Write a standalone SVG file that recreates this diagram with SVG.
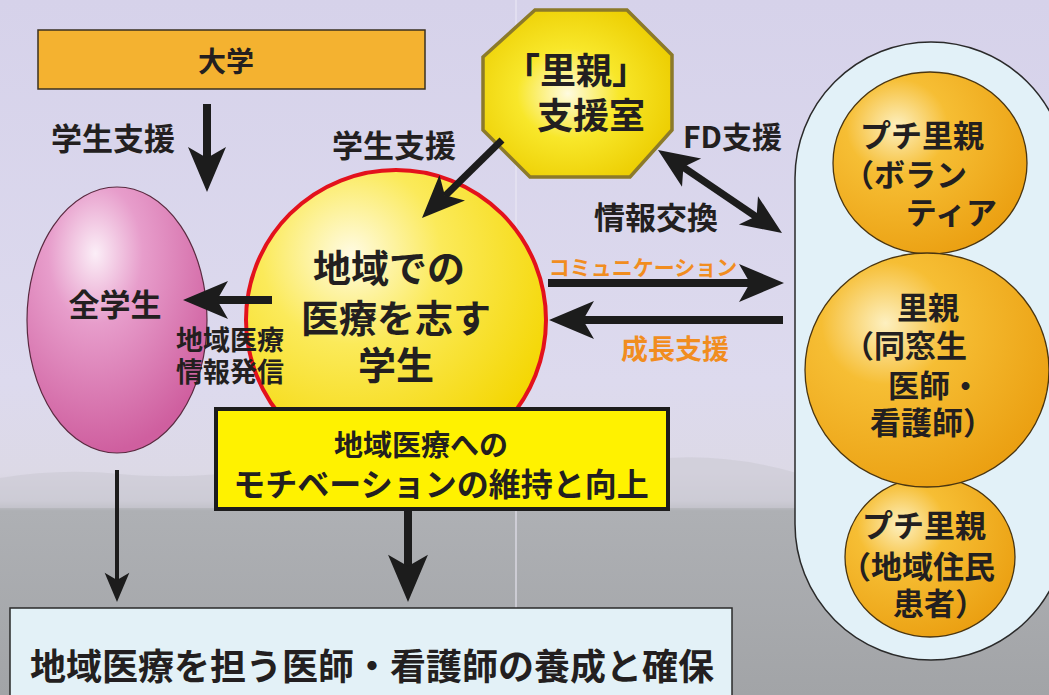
<svg xmlns="http://www.w3.org/2000/svg" xmlns:xlink="http://www.w3.org/1999/xlink" width="1049" height="695" viewBox="0 0 1049 695">
<defs>
<style>
text{font-family:"Noto Sans CJK JP","Noto Sans",sans-serif;font-weight:700;fill:#231f20;dominant-baseline:central}
.c{text-anchor:middle}
.e{text-anchor:end}
.or{fill:#f18d1f}
.arr{fill:#1c1c1c}
.shaft{stroke:#1c1c1c;fill:none}
</style>
<linearGradient id="bg" x1="0" y1="0" x2="0" y2="1">
<stop offset="0" stop-color="#d6d2ea"/>
<stop offset="0.55" stop-color="#dddaee"/>
<stop offset="0.68" stop-color="#dcd9e6"/>
<stop offset="0.72" stop-color="#cfced8"/>
<stop offset="0.735" stop-color="#aeb0b4"/>
<stop offset="1" stop-color="#a2a4a7"/>
</linearGradient>
<radialGradient id="pink" cx="0.38" cy="0.25" r="0.75">
<stop offset="0" stop-color="#fbeef7"/>
<stop offset="0.35" stop-color="#e79dcb"/>
<stop offset="1" stop-color="#cf5f9f"/>
</radialGradient>
<radialGradient id="yel" cx="0.35" cy="0.28" r="0.75">
<stop offset="0" stop-color="#fffbe2"/>
<stop offset="0.4" stop-color="#fbea5a"/>
<stop offset="1" stop-color="#f4d600"/>
</radialGradient>
<radialGradient id="oct" cx="0.45" cy="0.5" r="0.6">
<stop offset="0" stop-color="#fffbe0"/>
<stop offset="0.45" stop-color="#f8e72a"/>
<stop offset="1" stop-color="#eccd00"/>
</radialGradient>
<radialGradient id="org" cx="0.33" cy="0.3" r="0.75">
<stop offset="0" stop-color="#fdf0c0"/>
<stop offset="0.35" stop-color="#f6be34"/>
<stop offset="1" stop-color="#eba012"/>
</radialGradient>
<path id="head" d="M0,0 L-45,-19 L-34,0 L-45,19 Z"/>
</defs>

<rect x="0" y="0" width="1049" height="695" fill="url(#bg)"/>
<path d="M0,478 Q60,468 120,474 T260,470 T420,476 T600,468 T800,474 T1049,470 L1049,508 L0,508 Z" fill="#cbc9d4" opacity="0.6"/>
<line x1="516" y1="0" x2="516" y2="695" stroke="#eceaf6" stroke-width="1.5" opacity="0.7"/>

<g id="daigaku">
<rect x="38" y="30" width="387" height="59" fill="#f4b230" stroke="#3a3020" stroke-width="1.5"/>
<text class="c" x="226" y="60" font-size="28">大学</text>
</g>

<g id="zengakusei">
<ellipse cx="117" cy="320" rx="90" ry="133" fill="url(#pink)" stroke="#5a2a40" stroke-width="1.2"/>
<text class="c" x="115" y="302" font-size="31">全学生</text>
</g>

<g id="capsule">
<rect x="795" y="42" width="272" height="618" rx="136" ry="136" fill="#e2f1f8" stroke="#2a2a2a" stroke-width="1.5"/>
</g>

<g id="puchi-volunteer">
<ellipse cx="930" cy="163" rx="97" ry="91" fill="url(#org)" stroke="#4a3510" stroke-width="1.3"/>
<text x="860" y="133" font-size="31">プチ里親</text>
<text x="843" y="172" font-size="31">（ボラン</text>
<text class="e" x="997" y="210" font-size="31">ティア</text>
</g>

<g id="puchi-jumin">
<ellipse cx="930" cy="557" rx="85" ry="80" fill="url(#org)" stroke="#4a3510" stroke-width="1.3"/>
<text x="862" y="523" font-size="31">プチ里親</text>
<text x="840" y="564" font-size="31">（地域住民</text>
<text x="893" y="601" font-size="31">患者）</text>
</g>

<g id="satooya">
<ellipse cx="927" cy="370" rx="122" ry="117" fill="url(#org)" stroke="#4a3510" stroke-width="1.3"/>
<text class="c" x="928" y="305" font-size="31">里親</text>
<text x="843" y="343" font-size="31">（同窓生</text>
<text x="888" y="383" font-size="31">医師・</text>
<text x="870" y="420" font-size="31">看護師）</text>
</g>

<g id="student">
<circle cx="396" cy="320" r="150" fill="url(#yel)" stroke="#e3121c" stroke-width="4"/>
<text class="c" x="389" y="265" font-size="38">地域での</text>
<text class="c" x="396" y="315" font-size="38">医療を志す</text>
<text class="c" x="396" y="362" font-size="38">学生</text>
</g>

<g id="motivation">
<rect x="216" y="409" width="452" height="100" fill="#fff200" stroke="#1c1c1c" stroke-width="4"/>
<text class="c" x="421" y="443" font-size="29">地域医療への</text>
<text class="c" x="441" y="482" font-size="32">モチベーションの維持と向上</text>
</g>

<g id="shien-shitsu">
<polygon points="535,10 627,10 672,55 672,130 630,177 530,177 483,130 483,57" fill="url(#oct)" stroke="#8c7a2a" stroke-width="3.5" stroke-linejoin="miter"/>
<text class="c" x="576" y="68" font-size="36">「里親」</text>
<text class="c" x="591" y="113" font-size="36">支援室</text>
</g>

<g id="goal">
<rect x="10" y="608" width="722" height="100" fill="#e3f1f7" stroke="#2a2a2a" stroke-width="1.5"/>
<text x="30" y="664" font-size="36">地域医療を担う医師・看護師の養成と確保</text>
</g>

<g id="connectors">
<line class="shaft" x1="207" y1="104" x2="207" y2="160" stroke-width="8"/>
<use xlink:href="#head" class="arr" transform="translate(207,192) rotate(90)"/>

<line class="shaft" x1="502" y1="140" x2="445" y2="196" stroke-width="7"/>
<use xlink:href="#head" class="arr" transform="translate(422,218) rotate(135) scale(0.95)"/>

<line class="shaft" x1="680" y1="165" x2="758" y2="218" stroke-width="7"/>
<use xlink:href="#head" class="arr" transform="translate(658,150) rotate(214) scale(0.9)"/>
<use xlink:href="#head" class="arr" transform="translate(782,233) rotate(34) scale(0.9)"/>

<line class="shaft" x1="548" y1="283" x2="755" y2="283" stroke-width="8"/>
<use xlink:href="#head" class="arr" transform="translate(784,283) rotate(0)"/>

<line class="shaft" x1="783" y1="320" x2="578" y2="320" stroke-width="8"/>
<use xlink:href="#head" class="arr" transform="translate(549,320) rotate(180)"/>

<line class="shaft" x1="272" y1="300" x2="212" y2="300" stroke-width="8"/>
<use xlink:href="#head" class="arr" transform="translate(183,300) rotate(180)"/>

<line class="shaft" x1="117" y1="470" x2="117" y2="585" stroke-width="4"/>
<use xlink:href="#head" class="arr" transform="translate(117,602) rotate(90) scale(0.65)"/>

<line class="shaft" x1="408" y1="510" x2="408" y2="570" stroke-width="8"/>
<use xlink:href="#head" class="arr" transform="translate(408,602) rotate(90) scale(1.05)"/>

<text class="c" x="113" y="136" font-size="31">学生支援</text>
<text class="c" x="394" y="143" font-size="31">学生支援</text>
<text x="683" y="135" font-size="30">FD支援</text>
<text class="c" x="656" y="215" font-size="31">情報交換</text>
<text class="c or" x="643" y="266" font-size="21">コミュニケーション</text>
<text class="c or" x="675" y="347" font-size="27">成長支援</text>
<text class="c" x="230" y="338" font-size="27">地域医療</text>
<text class="c" x="230" y="370" font-size="27">情報発信</text>
</g>
</svg>
